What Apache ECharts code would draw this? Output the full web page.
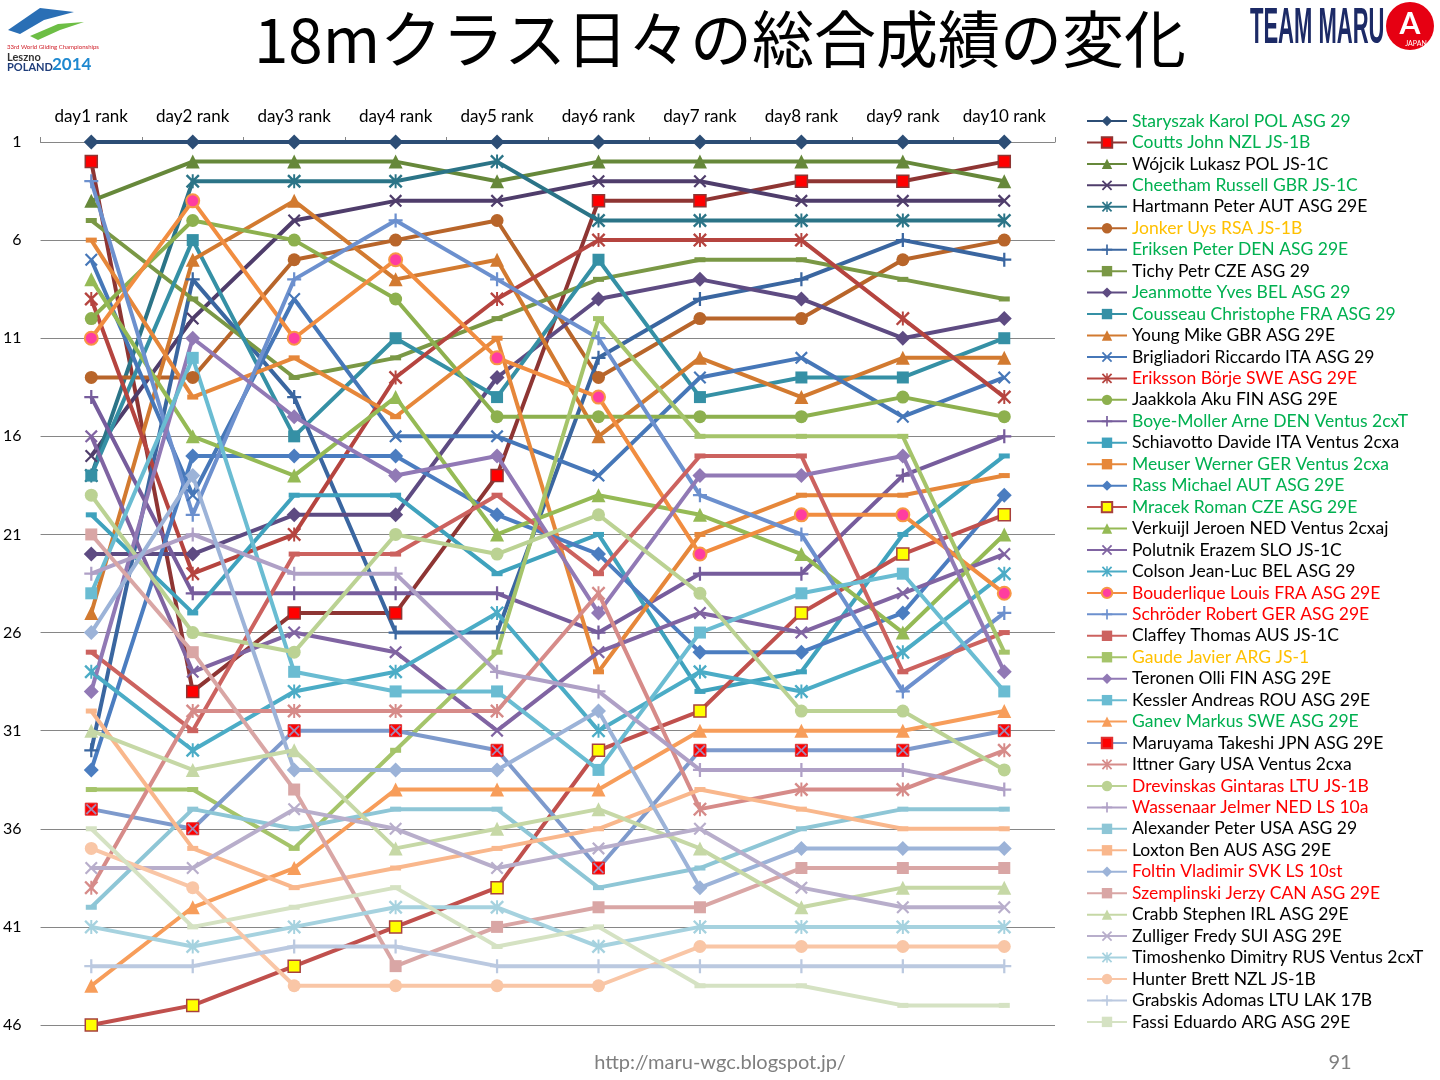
<!DOCTYPE html>
<html>
<head>
<meta charset="utf-8">
<title>18mクラス日々の総合成績の変化</title>
<script src="https://cdn.jsdelivr.net/npm/echarts@6/dist/echarts.min.js"></script>
<style>
  html, body { margin: 0; padding: 0; background: #ffffff; }
  #chart-container { width: 1440px; height: 1080px; }
</style>
</head>
<body>
<div id="chart-container"></div>
<script>
// x categories and rank axis
const days = ['day1 rank', 'day2 rank', 'day3 rank', 'day4 rank', 'day5 rank',
              'day6 rank', 'day7 rank', 'day8 rank', 'day9 rank', 'day10 rank'];
const rankMin = 1;
const rankMax = 46;
const rankStep = 5;

// overall rank after each day
const staryszak   = [1, 1, 1, 1, 1, 1, 1, 1, 1, 1];
const coutts      = [2, 29, 25, 25, 18, 4, 4, 3, 3, 2];
const wojcik      = [4, 2, 2, 2, 3, 2, 2, 2, 2, 3];
const cheetham    = [17, 10, 5, 4, 4, 3, 3, 4, 4, 4];
const hartmann    = [18, 3, 3, 3, 2, 5, 5, 5, 5, 5];
const jonker      = [13, 13, 7, 6, 5, 13, 10, 10, 7, 6];
const eriksen     = [32, 8, 14, 26, 26, 12, 9, 8, 6, 7];
const tichy       = [5, 9, 13, 12, 10, 8, 7, 7, 8, 9];
const jeanmotte   = [22, 22, 20, 20, 13, 9, 8, 9, 11, 10];
const cousseau    = [18, 6, 16, 11, 14, 7, 14, 13, 13, 11];
const young       = [25, 7, 4, 8, 7, 16, 12, 14, 12, 12];
const brigliadori = [7, 19, 9, 16, 16, 18, 13, 12, 15, 13];
const eriksson    = [9, 23, 21, 13, 9, 6, 6, 6, 10, 14];
const jaakkola    = [10, 5, 6, 9, 15, 15, 15, 15, 14, 15];
const boyeMoller  = [14, 24, 24, 24, 24, 26, 23, 23, 18, 16];
const schiavotto  = [20, 25, 19, 19, 23, 21, 29, 28, 21, 17];
const meuser      = [6, 14, 12, 15, 11, 28, 21, 19, 19, 18];
const rass        = [33, 17, 17, 17, 20, 22, 27, 27, 25, 19];
const mracek      = [46, 45, 43, 41, 39, 32, 30, 25, 22, 20];
const verkuijl    = [8, 16, 18, 14, 21, 19, 20, 22, 26, 21];
const polutnik    = [16, 28, 26, 27, 31, 27, 25, 26, 24, 22];
const colson      = [28, 32, 29, 28, 25, 31, 28, 29, 27, 23];
const bouderlique = [11, 4, 11, 7, 12, 14, 22, 20, 20, 24];
const schroder    = [3, 20, 8, 5, 8, 11, 19, 21, 29, 25];
const claffey     = [27, 31, 22, 22, 19, 23, 17, 17, 28, 26];
const gaude       = [34, 34, 37, 32, 27, 10, 16, 16, 16, 27];
const teronen     = [29, 11, 15, 18, 17, 25, 18, 18, 17, 28];
const kessler     = [24, 12, 28, 29, 29, 33, 26, 24, 23, 29];
const ganev       = [44, 40, 38, 34, 34, 34, 31, 31, 31, 30];
const maruyama    = [35, 36, 31, 31, 32, 38, 32, 32, 32, 31];
const ittner      = [39, 30, 30, 30, 30, 24, 35, 34, 34, 32];
const drevinskas  = [19, 26, 27, 21, 22, 20, 24, 30, 30, 33];
const wassenaar   = [23, 21, 23, 23, 28, 29, 33, 33, 33, 34];
const alexander   = [40, 35, 36, 35, 35, 39, 38, 36, 35, 35];
const loxton      = [30, 37, 39, 38, 37, 36, 34, 35, 36, 36];
const foltin      = [26, 18, 33, 33, 33, 30, 39, 37, 37, 37];
const szemplinski = [21, 27, 34, 43, 41, 40, 40, 38, 38, 38];
const crabb       = [31, 33, 32, 37, 36, 35, 37, 40, 39, 39];
const zulliger    = [38, 38, 35, 36, 38, 37, 36, 39, 40, 40];
const timoshenko  = [41, 42, 41, 40, 40, 42, 41, 41, 41, 41];
const hunter      = [37, 39, 44, 44, 44, 44, 42, 42, 42, 42];
const grabskis    = [43, 43, 42, 42, 43, 43, 43, 43, 43, 43];
const fassi       = [36, 41, 40, 39, 42, 41, 44, 44, 45, 45];

const pilots = [
    'Staryszak Karol POL ASG 29', 'Coutts John NZL JS-1B', 'Wójcik Lukasz POL JS-1C',
    'Cheetham Russell GBR JS-1C', 'Hartmann Peter AUT ASG 29E', 'Jonker Uys RSA JS-1B',
    'Eriksen Peter DEN ASG 29E', 'Tichy Petr CZE ASG 29', 'Jeanmotte Yves BEL ASG 29',
    'Cousseau Christophe FRA ASG 29', 'Young Mike GBR ASG 29E', 'Brigliadori Riccardo ITA ASG 29',
    'Eriksson Börje SWE ASG 29E', 'Jaakkola Aku FIN ASG 29E', 'Boye-Moller Arne DEN Ventus 2cxT',
    'Schiavotto Davide ITA Ventus 2cxa', 'Meuser Werner GER Ventus 2cxa', 'Rass Michael AUT ASG 29E',
    'Mracek Roman CZE ASG 29E', 'Verkuijl Jeroen NED Ventus 2cxaj', 'Polutnik Erazem SLO JS-1C',
    'Colson Jean-Luc BEL ASG 29', 'Bouderlique Louis FRA ASG 29E', 'Schröder Robert GER ASG 29E',
    'Claffey Thomas AUS JS-1C', 'Gaude Javier ARG JS-1', 'Teronen Olli FIN ASG 29E',
    'Kessler Andreas ROU ASG 29E', 'Ganev Markus SWE ASG 29E', 'Maruyama Takeshi JPN ASG 29E',
    'Ittner Gary USA Ventus 2cxa', 'Drevinskas Gintaras LTU JS-1B', 'Wassenaar Jelmer NED LS 10a',
    'Alexander Peter USA ASG 29', 'Loxton Ben AUS ASG 29E', 'Foltin Vladimir SVK LS 10st',
    'Szemplinski Jerzy CAN ASG 29E', 'Crabb Stephen IRL ASG 29E', 'Zulliger Fredy SUI ASG 29E',
    'Timoshenko Dimitry RUS Ventus 2cxT', 'Hunter Brett NZL JS-1B', 'Grabskis Adomas LTU LAK 17B',
    'Fassi Eduardo ARG ASG 29E'
];

const ranks = [
    staryszak, coutts, wojcik, cheetham, hartmann, jonker, eriksen, tichy, jeanmotte,
    cousseau, young, brigliadori, eriksson, jaakkola, boyeMoller, schiavotto, meuser, rass,
    mracek, verkuijl, polutnik, colson, bouderlique, schroder, claffey, gaude, teronen,
    kessler, ganev, maruyama, ittner, drevinskas, wassenaar, alexander, loxton, foltin,
    szemplinski, crabb, zulliger, timoshenko, hunter, grabskis, fassi
];

// ---- styles ----
const lineColors = [
    '#2C4D75', '#8E3533', '#66883A', '#4F3D6B', '#2B7487', '#B8652A', '#3A66A0', '#7A9845',
    '#5E4B82', '#3590A5', '#D27A30', '#4677B8', '#B5443F', '#8DB04E', '#765C9C', '#3FA2BD',
    '#E6873A', '#4B7DC0', '#C0504D', '#95BA55', '#8064A2', '#4BACC6', '#F18D40', '#6C90CE',
    '#CC625F', '#A5C46A', '#9179B5', '#6ABCD2', '#F79D5A', '#7E9ACC', '#D68B89', '#BBD293',
    '#AFA0C6', '#8EC6D6', '#F9B78C', '#9CB3D8', '#D9A6A5', '#C6D8A6', '#B8AECB', '#A6D2DF',
    '#F9C6A6', '#BBC9E0', '#D5E2C3'
];

const GREEN = '#00B050', RED = '#FF0000', GOLD = '#FFC000', BLACK = '#000000';
const nameColors = [
    GREEN, GREEN, BLACK, GREEN, BLACK, GOLD, GREEN, BLACK, GREEN, GREEN, BLACK, BLACK,
    RED, BLACK, GREEN, BLACK, GREEN, GREEN, GREEN, BLACK, BLACK, BLACK, RED, RED,
    BLACK, GOLD, BLACK, BLACK, GREEN, BLACK, BLACK, RED, RED, BLACK, BLACK, RED,
    RED, BLACK, BLACK, BLACK, BLACK, BLACK, BLACK
];

const markers = [
    'diamond', 'square', 'triangle', 'x', 'star', 'circle', 'plus', 'dash',
    'diamond', 'square', 'triangle', 'x', 'star', 'circle', 'plus', 'dash', 'dash',
    'diamond', 'square', 'triangle', 'x', 'star', 'circle', 'plus', 'dash', 'dash',
    'diamond', 'square', 'triangle', 'square', 'star', 'circle', 'plus', 'dash', 'dash',
    'diamond', 'square', 'triangle', 'x', 'star', 'circle', 'plus', 'dash'
];

const X_PATH = 'path://M1.2,0L5,3.8L8.8,0L10,1.2L6.2,5L10,8.8L8.8,10L5,6.2L1.2,10L0,8.8L3.8,5L0,1.2Z';
const symbolFor = {
    diamond:  { symbol: 'diamond', size: 15 },
    square:   { symbol: 'rect', size: 12 },
    triangle: { symbol: 'triangle', size: 14 },
    x:        { symbol: X_PATH, size: 13 },
    star:     { symbol: X_PATH.replace('Z', 'Z M4.3,0L5.7,0L5.7,10L4.3,10Z'), size: 14 },
    circle:   { symbol: 'circle', size: 13 },
    plus:     { symbol: 'path://M4.2,0L5.8,0L5.8,10L4.2,10Z M0,4.2L10,4.2L10,5.8L0,5.8Z', size: 14 },
    dash:     { symbol: 'rect', size: [11, 5] }
};

// a few pilots had special marker fills
const specialItem = {
    1:  { color: '#FF0000', borderColor: '#8E3533', borderWidth: 1.5 },
    18: { color: '#FFFF00', borderColor: '#A8403C', borderWidth: 1.5 },
    22: { color: '#FF3DA0', borderColor: '#F79646', borderWidth: 2 },
    29: { color: '#FF0000', borderColor: '#E03030', borderWidth: 1 }
};

const FONT = 'Lato, "Open Sans", sans-serif';

const chartContainer = document.getElementById('chart-container');
const myChart = echarts.init(chartContainer);

const series = ranks.map((values, i) => {
    const m = symbolFor[markers[i]];
    return {
        name: pilots[i],
        type: 'line',
        data: values,
        symbol: m.symbol,
        symbolSize: m.size,
        showSymbol: true,
        showAllSymbol: true,
        lineStyle: { color: lineColors[i], width: 4 },
        itemStyle: specialItem[i] || { color: lineColors[i] },
        emphasis: { disabled: true }
    };
});

// light blue cross drawn over Maruyama's red squares
series.push({
    name: 'maruyama-cross',
    type: 'scatter',
    data: maruyama,
    symbol: X_PATH,
    symbolSize: 11,
    itemStyle: { color: '#8FA9DD' },
    z: 3,
    silent: true
});

const options = {
    animation: false,
    backgroundColor: '#ffffff',
    textStyle: { fontFamily: FONT },
    grid: { left: 39, top: 142, width: 1016, height: 883 },
    xAxis: {
        type: 'category',
        position: 'top',
        data: days,
        boundaryGap: true,
        axisLine: { lineStyle: { color: '#868686', width: 1.2 } },
        axisTick: { show: true, length: 5, lineStyle: { color: '#868686' } },
        axisLabel: { color: '#000', fontSize: 17, margin: 17, interval: 0, fontFamily: FONT }
    },
    yAxis: {
        type: 'value',
        inverse: true,
        min: rankMin,
        max: rankMax,
        interval: rankStep,
        axisLine: { show: false },
        axisTick: { show: false },
        splitLine: { lineStyle: { color: '#868686', width: 1.2 } },
        axisLabel: { color: '#000', fontSize: 16, margin: 19, fontFamily: FONT }
    },
    legend: {
        orient: 'vertical',
        left: 1086,
        top: 112,
        height: 960,
        padding: 0,
        itemWidth: 40,
        itemHeight: 13,
        itemGap: 3.45,
        selectedMode: false,
        textStyle: { fontSize: 17.5, fontFamily: FONT },
        data: pilots.map((name, i) => ({ name: name, textStyle: { color: nameColors[i] } }))
    },
    graphic: [
        {
            type: 'text', left: 'center', top: 8,
            style: { text: '18mクラス日々の総合成績の変化', fontSize: 62,
                     fontFamily: '"Noto Sans CJK JP", sans-serif', fill: '#000' }
        },
        {
            type: 'text', x: 720, y: 1063,
            style: { text: 'http://maru-wgc.blogspot.jp/', fontSize: 20, fontFamily: FONT,
                     fill: '#7F7F7F', align: 'center', verticalAlign: 'middle' }
        },
        {
            type: 'text', x: 1340, y: 1063,
            style: { text: '91', fontSize: 20, fontFamily: FONT, fill: '#7F7F7F',
                     align: 'center', verticalAlign: 'middle' }
        },
        // WGC logo, roughly
        {
            type: 'polygon',
            shape: { points: [[8, 30], [40, 8], [74, 12], [44, 20], [20, 34]] },
            style: { fill: '#2A6FB5' }
        },
        {
            type: 'polygon',
            shape: { points: [[30, 36], [58, 24], [84, 22], [60, 30], [38, 40]] },
            style: { fill: '#6DBE45' }
        },
        {
            type: 'text', x: 7, y: 44,
            style: { text: '33rd World Gliding Championships', fontSize: 6, fill: '#D0202A',
                     fontFamily: FONT }
        },
        {
            type: 'text', x: 7, y: 52,
            style: { text: 'Leszno', fontSize: 11, fontWeight: 'bold', fill: '#333',
                     fontFamily: FONT }
        },
        {
            type: 'text', x: 7, y: 62,
            style: { text: 'POLAND', fontSize: 11, fontWeight: 'bold', fill: '#1F3D7A',
                     fontFamily: FONT }
        },
        {
            type: 'text', x: 52, y: 56,
            style: { text: '2014', fontSize: 17, fontWeight: 'bold', fill: '#1E88D0',
                     fontFamily: FONT }
        },
        // TEAM MARU logo, roughly
        {
            type: 'group', x: 1250, y: 4, scaleX: 0.5, scaleY: 1.15,
            children: [{
                type: 'text', x: 0, y: 0,
                style: { text: 'TEAM MARU', fontSize: 44, fontWeight: 'bold',
                         fontFamily: '"Liberation Sans Narrow", sans-serif', fill: '#1C2A66' }
            }]
        },
        {
            type: 'circle', shape: { cx: 1410, cy: 26, r: 24 },
            style: { fill: '#E60012' }
        },
        {
            type: 'text', x: 1410, y: 24,
            style: { text: 'A', fontSize: 30, fontWeight: 'bold', fill: '#fff',
                     align: 'center', verticalAlign: 'middle', fontFamily: FONT }
        },
        {
            type: 'text', x: 1416, y: 44,
            style: { text: 'JAPAN', fontSize: 7, fill: '#fff', align: 'center',
                     verticalAlign: 'middle', fontFamily: FONT }
        }
    ],
    series: series
};

myChart.setOption(options);

window.addEventListener('resize', function () {
    myChart.resize();
});
</script>
</body>
</html>
